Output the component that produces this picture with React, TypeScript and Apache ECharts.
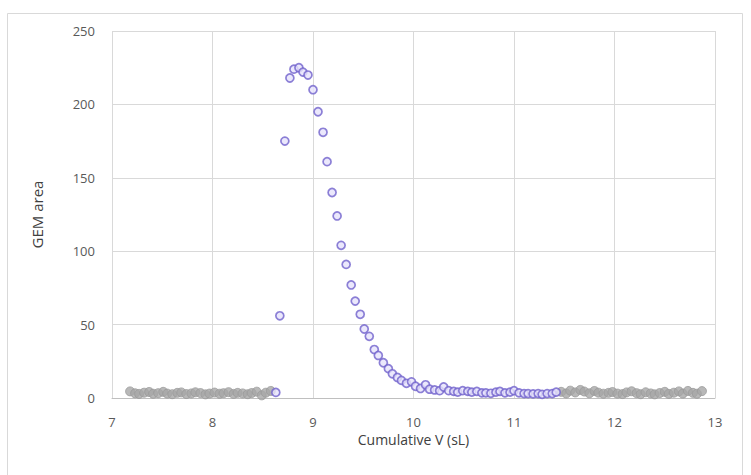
import React, { useEffect, useRef } from "react";
import * as echarts from "echarts";

const leftGrayX = [7.18, 7.23, 7.27, 7.32, 7.37, 7.41, 7.46, 7.51, 7.55, 7.6, 7.65, 7.69, 7.74, 7.79, 7.83, 7.88, 7.93, 7.97, 8.02, 8.07, 8.11, 8.16, 8.21, 8.25, 8.3, 8.35, 8.39, 8.44, 8.49, 8.53, 8.58];
const leftGrayY = [4.5, 3.2, 2.8, 3.6, 4.1, 2.9, 3.3, 4.2, 3.0, 2.6, 3.5, 3.8, 2.7, 3.1, 3.9, 3.4, 2.5, 3.0, 3.7, 2.9, 3.3, 4.0, 2.8, 3.5, 3.1, 2.6, 3.4, 4.3, 1.8, 3.6, 4.8];

const rightGrayX = [11.47, 11.52, 11.56, 11.61, 11.66, 11.7, 11.75, 11.8, 11.84, 11.89, 11.94, 11.98, 12.03, 12.08, 12.12, 12.17, 12.22, 12.26, 12.31, 12.36, 12.4, 12.45, 12.5, 12.54, 12.59, 12.64, 12.68, 12.73, 12.78, 12.82, 12.87];
const rightGrayY = [4.2, 3.1, 5.0, 3.8, 5.5, 4.4, 3.2, 4.8, 3.6, 2.9, 3.5, 4.1, 3.0, 2.7, 3.8, 4.6, 3.3, 2.6, 3.9, 3.1, 2.5, 3.4, 4.2, 2.8, 3.6, 4.5, 3.0, 4.8, 3.5, 2.9, 4.7];

const peakX = [8.63, 8.67, 8.72, 8.77, 8.81, 8.86, 8.9, 8.95, 9.0, 9.05, 9.1, 9.14, 9.19, 9.24, 9.28, 9.33, 9.38, 9.42, 9.47, 9.51, 9.56, 9.61, 9.65, 9.7, 9.75, 9.79, 9.84, 9.88, 9.93, 9.98, 10.02, 10.07, 10.12, 10.16, 10.21, 10.26, 10.3, 10.35, 10.4, 10.44, 10.49, 10.54, 10.58, 10.63, 10.68, 10.72, 10.77, 10.82, 10.86, 10.91, 10.96, 11.0, 11.05, 11.1, 11.14, 11.19, 11.24, 11.28, 11.33, 11.38, 11.42];
const peakY = [3.8, 56, 175, 218, 224, 225, 222, 220, 210, 195, 181, 161, 140, 124, 104, 91, 77, 66, 57, 47, 42, 33, 29, 24, 20, 16.5, 14, 12, 10, 11, 8, 6.5, 9, 6, 5.5, 5, 7.5, 5, 4.5, 4, 5, 4.5, 4, 4.5, 3.5, 3.5, 3.2, 4, 4.5, 3.5, 4, 5, 3.5, 3, 3, 2.8, 3, 2.5, 3, 3, 4];

const xTicks = [7, 8, 9, 10, 11, 12, 13];
const yTicks = [0, 50, 100, 150, 200, 250];

const xTitle = "Cumulative V (sL)";
const yTitle = "GEM area";

const zip = (xs: number[], ys: number[]) => xs.map((x, i) => [x, ys[i]]);

export default function App() {
  const ref = useRef<HTMLDivElement>(null);
  useEffect(() => {
    if (!ref.current) return;
    const chart = echarts.init(ref.current, undefined, { renderer: "svg" });
    const font = "'Open Sans', 'Liberation Sans', sans-serif";
    const grayStyle = { color: "#a6a6a6", borderColor: "#9a9a9a", borderWidth: 1 };
    chart.setOption({
      animation: false,
      backgroundColor: "#ffffff",
      graphic: [
        {
          type: "rect",
          shape: { x: 7.5, y: 13.5, width: 735, height: 470 },
          style: { fill: "none", stroke: "#d9d9d9", lineWidth: 1 },
          silent: true,
        },
      ],
      grid: { left: 112, right: 36, top: 31, bottom: 77, containLabel: false },
      xAxis: {
        type: "value",
        min: xTicks[0],
        max: xTicks[xTicks.length - 1],
        interval: 1,
        name: xTitle,
        nameLocation: "middle",
        nameGap: 34,
        nameTextStyle: { fontFamily: font, fontSize: 14, color: "#404040" },
        axisLine: { show: true, lineStyle: { color: "#bfbfbf", width: 1 } },
        axisTick: { show: false },
        axisLabel: { fontFamily: font, fontSize: 13, color: "#595959", margin: 17 },
        splitLine: { show: true, lineStyle: { color: "#d9d9d9", width: 1 } },
      },
      yAxis: {
        type: "value",
        min: yTicks[0],
        max: yTicks[yTicks.length - 1],
        interval: 50,
        name: yTitle,
        nameLocation: "middle",
        nameGap: 68,
        nameRotate: 90,
        nameTextStyle: { fontFamily: font, fontSize: 15, color: "#404040" },
        axisLine: { show: false },
        axisTick: { show: false },
        axisLabel: { fontFamily: font, fontSize: 13, color: "#595959", margin: 17 },
        splitLine: { show: true, lineStyle: { color: "#d9d9d9", width: 1 } },
      },
      series: [
        {
          type: "scatter",
          data: zip(leftGrayX, leftGrayY),
          symbol: "circle",
          symbolSize: 9,
          itemStyle: grayStyle,
        },
        {
          type: "scatter",
          data: zip(rightGrayX, rightGrayY),
          symbol: "circle",
          symbolSize: 9,
          itemStyle: grayStyle,
        },
        {
          type: "scatter",
          data: zip(peakX, peakY),
          symbol: "circle",
          symbolSize: 8,
          itemStyle: { color: "#e6e2fb", borderColor: "#7062cc", borderWidth: 1.7 },
        },
      ],
    });
    return () => chart.dispose();
  }, []);
  return (
    <div
      ref={ref}
      style={{ position: "fixed", left: 0, top: 0, width: 751, height: 475 }}
    />
  );
}
